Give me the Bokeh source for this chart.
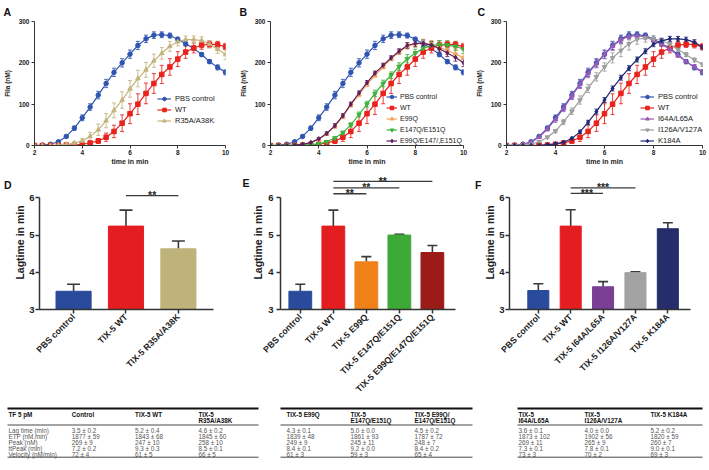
import math
from bokeh.plotting import figure
from bokeh.models import (Range1d, FixedTicker, Whisker, TeeHead, ColumnDataSource, LinearAxis)
from bokeh.layouts import row, column
from bokeh.embed import file_html
from bokeh.resources import INLINE
from bokeh.core.properties import value

FONT = "Liberation Sans"

# ---------------- thrombin generation curves (A, B, C) ----------------
time_min = [2.0, 2.33, 2.67, 3.0, 3.33, 3.67, 4.0, 4.33, 4.67, 5.0, 5.33, 5.67, 6.0,
            6.33, 6.67, 7.0, 7.33, 7.67, 8.0, 8.33, 8.67, 9.0, 9.33, 9.67, 10.0]
x_ticks = [2, 4, 6, 8, 10]
y_ticks_fiia = [0, 100, 200, 300]

pbs_mean = [0, 1, 3, 9, 22, 42, 67, 93, 122, 150, 177, 200, 221, 242, 258, 267, 268, 266, 257, 246, 235, 220, 203, 189, 177]
pbs_sd = [0, 0, 1, 2, 3, 5, 7, 8, 9, 10, 10, 10, 10, 10, 9, 8, 7, 6, 5, 5, 5, 5, 5, 6, 6]
wt_mean = [0, 0, 0, 0, 1, 1, 3, 6, 11, 20, 34, 54, 77, 100, 126, 150, 172, 190, 209, 226, 236, 243, 245, 244, 239]
wt_sd = [0, 0, 0, 0, 0, 1, 2, 3, 6, 10, 15, 20, 24, 25, 25, 24, 22, 20, 18, 15, 12, 10, 8, 8, 8]
r35a_mean = [0, 0, 0, 1, 3, 6, 11, 22, 38, 60, 85, 110, 137, 162, 183, 205, 223, 240, 251, 256, 256, 254, 245, 233, 220]
r35a_sd = [0, 0, 0, 0, 1, 3, 6, 10, 14, 17, 18, 20, 20, 20, 18, 16, 14, 12, 10, 9, 9, 9, 9, 10, 12]
e99q_mean = [0, 0, 0, 1, 3, 7, 15, 28, 47, 70, 98, 123, 148, 170, 190, 210, 226, 240, 246, 248, 245, 238, 230, 222, 212]
e99q_sd = [0, 0, 0, 0, 1, 2, 3, 4, 5, 5, 5, 5, 5, 5, 5, 5, 6, 7, 8, 9, 9, 9, 10, 10, 10]
e147q_mean = [0, 0, 0, 0, 1, 2, 4, 9, 18, 31, 50, 75, 100, 126, 150, 170, 191, 210, 223, 235, 242, 244, 243, 240, 233]
e147q_sd = [0, 0, 0, 0, 0, 1, 1, 2, 3, 4, 5, 6, 7, 8, 8, 8, 9, 10, 10, 10, 10, 10, 10, 10, 10]
triple_mean = [0, 0, 0, 1, 3, 7, 16, 29, 48, 72, 100, 127, 152, 175, 194, 212, 228, 242, 247, 247, 243, 234, 224, 213, 200]
triple_sd = [0, 0, 0, 0, 1, 2, 3, 4, 5, 5, 5, 5, 5, 5, 5, 5, 6, 7, 8, 8, 8, 8, 9, 9, 9]
i64a_mean = [0, 1, 3, 8, 20, 40, 63, 90, 120, 148, 174, 198, 220, 240, 256, 264, 266, 263, 255, 245, 233, 218, 203, 190, 178]
i64a_sd = [0, 0, 1, 2, 3, 5, 7, 8, 9, 10, 10, 10, 10, 10, 9, 8, 7, 6, 5, 5, 5, 5, 5, 6, 6]
i126a_mean = [0, 0, 1, 3, 9, 20, 35, 57, 83, 110, 138, 166, 190, 212, 230, 246, 257, 260, 258, 254, 245, 232, 220, 207, 196]
i126a_sd = [0, 0, 0, 1, 2, 3, 4, 6, 8, 10, 10, 10, 10, 12, 15, 15, 12, 10, 8, 6, 5, 5, 5, 5, 5]
k184a_mean = [0, 0, 0, 0, 0, 2, 4, 8, 17, 33, 56, 82, 110, 138, 164, 187, 208, 228, 245, 253, 258, 258, 256, 250, 238]
k184a_sd = [0, 0, 0, 0, 0, 1, 1, 2, 3, 4, 5, 6, 6, 6, 6, 6, 6, 6, 6, 6, 6, 6, 6, 6, 6]

C_BLUE, C_RED, C_TAN = "#2F55B0", "#E8221C", "#C4B47E"
C_ORANGE, C_GREEN, C_DPURPLE = "#F2A45C", "#3CB43C", "#5E1F5E"
C_LAV, C_GRAY, C_NAVY = "#9B59B6", "#9E9E9E", "#1E2A78"

series_A = [("PBS control", pbs_mean, pbs_sd, C_BLUE, "circle"),
            ("WT", wt_mean, wt_sd, C_RED, "square"),
            ("R35A/A38K", r35a_mean, r35a_sd, C_TAN, "triangle")]
series_B = [("PBS control", pbs_mean, pbs_sd, C_BLUE, "circle"),
            ("WT", wt_mean, wt_sd, C_RED, "square"),
            ("E99Q", e99q_mean, e99q_sd, C_ORANGE, "triangle"),
            ("E147Q/E151Q", e147q_mean, e147q_sd, C_GREEN, "inverted_triangle"),
            ("E99Q/E147/,E151Q", triple_mean, triple_sd, C_DPURPLE, "diamond")]
series_C = [("PBS control", pbs_mean, pbs_sd, C_BLUE, "circle"),
            ("WT", wt_mean, wt_sd, C_RED, "square"),
            ("I64A/L65A", i64a_mean, i64a_sd, C_LAV, "triangle"),
            ("I126A/V127A", i126a_mean, i126a_sd, C_GRAY, "inverted_triangle"),
            ("K184A", k184a_mean, k184a_sd, C_NAVY, "diamond")]

# ---------------- lag time bars (D, E, F) ----------------
bars_D_labels = ["PBS control", "TIX-5 WT", "TIX-5 R35A/A38K"]
bars_D_mean = [3.49, 5.24, 4.63]
bars_D_sd = [0.19, 0.43, 0.21]
bars_D_colors = ["#2A4B9B", "#E41E20", "#BEB37A"]
sig_D = [(1, 2, 6.06, "**")]

bars_E_labels = ["PBS control", "TIX-5 WT", "TIX-5 E99Q", "TIX-5 E147Q/E151Q", "TIX-5 E99Q/E147Q/E151Q"]
bars_E_mean = [3.49, 5.24, 4.28, 5.0, 4.53]
bars_E_sd = [0.19, 0.43, 0.14, 0.02, 0.19]
bars_E_colors = ["#2A4B9B", "#E41E20", "#F08019", "#3DAA38", "#9A1B17"]
sig_E = [(1, 2, 6.11, "**"), (1, 3, 6.27, "**"), (1, 4, 6.44, "**")]

bars_F_labels = ["PBS control", "TIX-5 WT", "TIX-5 I64A/L65A", "TIX-5 I126A/V127A", "TIX-5 K184A"]
bars_F_mean = [3.51, 5.24, 3.61, 3.99, 5.17]
bars_F_sd = [0.18, 0.44, 0.14, 0.02, 0.16]
bars_F_colors = ["#2A4B9B", "#E41E20", "#7A3E94", "#A2A2A2", "#252E6B"]
sig_F = [(1, 2, 6.12, "***"), (1, 3, 6.27, "***")]
lag_ticks = [3, 4, 5, 6]

# ---------------- tables ----------------
row_labels = ["Lag time (min)", "ETP (nM.min)", "Peak (nM)", "ttPeak (min)", "Velocity (nM/min)"]
t1_head1 = ["TF 5 pM", "Control", "TIX-5 WT", "TIX-5"]
t1_head2 = ["", "", "", "R35A/A38K"]
col_control = ["3.5 ± 0.2", "1877 ± 59", "269 ± 9", "7.2 ± 0.2", "72 ± 4"]
col_wt = ["5.2 ± 0.4", "1843 ± 68", "247 ± 10", "9.3 ± 0.3", "61 ± 5"]
col_r35a = ["4.6 ± 0.2", "1845 ± 60", "258 ± 10", "8.5 ± 0.1", "66 ± 5"]
t2_head1 = ["TIX-5 E99Q", "TIX-5", "TIX-5 E99Q/"]
t2_head2 = ["", "E147Q/E151Q", "E147Q/E151Q"]
col_e99q = ["4.3 ± 0.1", "1839 ± 48", "249 ± 9", "8.4 ± 0.1", "61 ± 3"]
col_e147q = ["5.0 ± 0.0", "1861 ± 93", "245 ± 11", "9.2 ± 0.0", "59 ± 3"]
col_triple = ["4.5 ± 0.2", "1787 ± 72", "248 ± 7", "8.4 ± 0.2", "65 ± 4"]
t3_head1 = ["TIX-5", "TIX-5", "TIX-5 K184A"]
t3_head2 = ["I64A/L65A", "I126A/V127A", ""]
col_i64a = ["3.6 ± 0.1", "1873 ± 102", "269 ± 11", "7.3 ± 0.1", "73 ± 3"]
col_i126a = ["4.0 ± 0.0", "1902 ± 56", "265 ± 9", "7.8 ± 0.1", "70 ± 2"]
col_k184a = ["5.2 ± 0.2", "1820 ± 59", "260 ± 7", "9.0 ± 0.1", "69 ± 3"]

W = 236
H1, H2, H3 = 167, 233, 69
AXC = "#333333"


def style_axis(ax, tick_size, label_size, tick_out, lw, standoff, label_standoff):
    ax.axis_line_color = AXC
    ax.axis_line_width = lw
    ax.major_tick_line_color = AXC
    ax.major_tick_line_width = lw
    ax.major_tick_out = tick_out
    ax.major_tick_in = 0
    ax.minor_tick_line_color = None
    ax.major_label_text_font = FONT
    ax.major_label_text_font_style = "bold"
    ax.major_label_text_font_size = tick_size
    ax.major_label_text_color = "#222222"
    ax.major_label_standoff = standoff
    ax.axis_label_text_font = FONT
    ax.axis_label_text_font_style = "bold"
    ax.axis_label_text_font_size = label_size
    ax.axis_label_text_color = "#222222"
    ax.axis_label_standoff = label_standoff


def base_fig(w, h, xr, yr, bl, br, bt, bb, title=None):
    p = figure(width=w, height=h, x_range=xr, y_range=yr, output_backend="svg",
               toolbar_location=None, title=title,
               min_border_left=bl, min_border_right=br, min_border_top=bt, min_border_bottom=bb)
    p.outline_line_color = None
    p.xgrid.grid_line_color = None
    p.ygrid.grid_line_color = None
    p.background_fill_color = "white"
    return p


def line_panel(txt, series, bl, br, legend_loc, lfont, gw, lstand, letter_x):
    bt, bb = 19, 19
    p = base_fig(W, H1, Range1d(2, 10), Range1d(0, 300), bl, br, bt, bb, title=txt)
    p.title.align = "left"
    p.title.offset = letter_x
    p.title.standoff = 7
    p.title.text_font = FONT
    p.title.text_font_style = "bold"
    p.title.text_font_size = "10.5px"
    p.title.text_color = "#111111"
    for name, mean, sd, color, marker in series:
        src = ColumnDataSource(dict(t=time_min, m=mean,
                                    lo=[a - b for a, b in zip(mean, sd)],
                                    hi=[a + b for a, b in zip(mean, sd)]))
        p.add_layout(Whisker(source=src, base="t", lower="lo", upper="hi",
                             line_color=color, line_width=1, line_alpha=0.85,
                             upper_head=TeeHead(size=4, line_color=color, line_width=1, line_alpha=0.85),
                             lower_head=TeeHead(size=4, line_color=color, line_width=1, line_alpha=0.85)))
        p.line("t", "m", source=src, line_color=color, line_width=1.2, legend_label=name)
        p.scatter("t", "m", source=src, marker=marker, size=4.5, fill_color=color,
                  line_color=color, legend_label=name)
    p.xaxis.ticker = FixedTicker(ticks=x_ticks)
    p.yaxis.ticker = FixedTicker(ticks=y_ticks_fiia)
    p.xaxis.axis_label = "time in min"
    p.yaxis.axis_label = "FIIa (nM)"
    style_axis(p.xaxis[0], "6.5px", "7px", 3, 1, 1, 0)
    style_axis(p.yaxis[0], "6.5px", "6.5px", 3, 1, 2, 5)
    lg = p.legend[0]
    lg.location = legend_loc
    lg.border_line_color = None
    lg.background_fill_alpha = 0
    lg.label_text_font = FONT
    lg.label_text_font_size = lfont
    lg.label_text_color = "#222222"
    lg.glyph_width = gw
    lg.glyph_height = 9
    lg.label_height = 9
    lg.label_standoff = lstand
    lg.spacing = 2
    lg.padding = 2
    lg.margin = 0
    return p


# row 2 figures share their top/bottom borders (the row aligns their frames)
BT2, BB2 = 8, 89
Y2 = (3, 6.6)


def bar_panel(txt, labels, means, sds, colors, sig, bl, br, xs0, xs1, bw, cap,
              tick_stand, lstand, letter_cy):
    xs = list(range(len(labels)))
    p = base_fig(W, H2, Range1d(xs0, xs1), Range1d(*Y2), bl, br, BT2, BB2)
    p.vbar(x=xs, top=means, bottom=3, width=bw, fill_color=colors, line_color=colors)
    src = ColumnDataSource(dict(x=xs, lo=means, hi=[a + b for a, b in zip(means, sds)]))
    p.add_layout(Whisker(source=src, base="x", lower="lo", upper="hi", line_color="#3A3A3A",
                         line_width=1.6, lower_head=None,
                         upper_head=TeeHead(size=cap, line_color="#3A3A3A", line_width=1.6)))
    p.segment(x0=[s[0] for s in sig], y0=[s[2] for s in sig], x1=[s[1] for s in sig],
              y1=[s[2] for s in sig], line_color="#3A3A3A", line_width=1.3)
    p.text(x=[(s[0] + s[1]) / 2 for s in sig], y=[s[2] + 0.01 for s in sig], text=[s[3] for s in sig],
           text_font=value(FONT), text_font_size="10.5px", text_font_style="bold",
           text_align="center", text_baseline="alphabetic", text_color="#222222")
    p.yaxis.ticker = FixedTicker(ticks=lag_ticks)
    p.yaxis.bounds = (3, 6)
    p.yaxis.axis_label = "Lagtime in min"
    p.xaxis.ticker = FixedTicker(ticks=xs)
    p.xaxis.major_label_overrides = {i: lab for i, lab in enumerate(labels)}
    p.xaxis.major_label_orientation = math.pi / 4
    style_axis(p.yaxis[0], "9.5px", "10.5px", 4, 1.5, tick_stand, lstand)
    style_axis(p.xaxis[0], "8.8px", "9px", 4, 1.5, 2, 2)
    # panel letter: an outer left axis carrying one horizontal tick label
    ppy = (H2 - BT2 - BB2) / (Y2[1] - Y2[0])
    ly = round(Y2[1] - (letter_cy - BT2) / ppy, 3)
    la = LinearAxis(ticker=FixedTicker(ticks=[ly], minor_ticks=[]),
                    major_label_overrides={ly: txt})
    la.axis_line_color = None
    la.major_tick_line_color = None
    la.minor_tick_line_color = None
    la.major_tick_out = 0
    la.major_tick_in = 0
    la.major_label_standoff = 0
    la.major_label_text_font = FONT
    la.major_label_text_font_style = "bold"
    la.major_label_text_font_size = "10.5px"
    la.major_label_text_color = "#111111"
    p.add_layout(la, "left")
    return p


def table_panel(w, col0, pitch, rule_a, rule_b, head1, head2, cols, with_rows):
    # body row k sits at canvas y = 24.5 + 5.8 k
    y_top = -24.5 / 5.8
    y_bot = (H3 - 24.5) / 5.8
    p = figure(width=w, height=H3, x_range=Range1d(-col0 / pitch, (w - col0) / pitch),
               y_range=Range1d(y_bot, y_top),
               output_backend="svg", toolbar_location=None, title=None,
               min_border_left=0, min_border_right=0, min_border_top=0, min_border_bottom=0)
    p.axis.visible = False
    p.grid.grid_line_color = None
    p.outline_line_color = None
    ncol = len(head1)
    hx = list(range(ncol))
    fs = "6.3px"
    p.text(x=hx, y=[-1.84] * ncol, text=head1, text_font=value(FONT), text_font_size=fs,
           text_font_style="bold", text_baseline="middle", text_color="#111111")
    p.text(x=hx, y=[-0.8] * ncol, text=head2, text_font=value(FONT), text_font_size=fs,
           text_font_style="bold", text_baseline="middle", text_color="#111111")
    start = 0
    if with_rows:
        p.text(x=[0] * len(row_labels), y=list(range(1, len(row_labels) + 1)), text=row_labels,
               text_font=value(FONT), text_font_size=fs, text_baseline="middle",
               text_color="#555555")
        start = 1
    for j, colvals in enumerate(cols):
        p.text(x=[start + j] * len(colvals), y=list(range(1, len(colvals) + 1)), text=colvals,
               text_font=value(FONT), text_font_size=fs, text_baseline="middle",
               text_color="#555555")
    ra = (rule_a - col0) / pitch
    rb = (rule_b - col0) / pitch
    p.segment(x0=[ra], y0=[-2.84], x1=[rb], y1=[-2.84], line_color="#111111", line_width=2)
    p.segment(x0=[ra, ra], y0=[0.0, 5.55], x1=[rb, rb], y1=[0.0, 5.55],
              line_color="#333333", line_width=0.9)
    return p


pA = line_panel("A", series_A, 33, 11, (123, 20), "7.5px", 14, 4, -31)
pB = line_panel("B", series_B, 32, 9, (116, 0), "7px", 11, 3, -31)
pC = line_panel("C", series_C, 30, 6, (134, 0), "7.5px", 14, 4, -29)

pD = bar_panel("D", bars_D_labels, bars_D_mean, bars_D_sd, bars_D_colors, sig_D,
               39, 23, -0.65, 2.67, 0.67, 13, 1, 0, 18)
pE = bar_panel("E", bars_E_labels, bars_E_mean, bars_E_sd, bars_E_colors, sig_E,
               44, 17, -0.6, 4.7, 0.69, 10, 3, 1, 16)
pF = bar_panel("F", bars_F_labels, bars_F_mean, bars_F_sd, bars_F_colors, sig_F,
               37, 18, -0.89, 4.7, 0.65, 10, 1, 0, 18)

t1 = table_panel(265, 8, 63.3, 7, 258, t1_head1, t1_head2, [col_control, col_wt, col_r35a], True)
t2 = table_panel(237, 21, 64, 15, 207, t2_head1, t2_head2, [col_e99q, col_e147q, col_triple], False)
t3 = table_panel(206, 16, 66, 15, 200, t3_head1, t3_head2, [col_i64a, col_i126a, col_k184a], False)

layout = column(row(pA, pB, pC), row(pD, pE, pF), row(t1, t2, t3))
open("out.html", "w").write(file_html(layout, INLINE))
